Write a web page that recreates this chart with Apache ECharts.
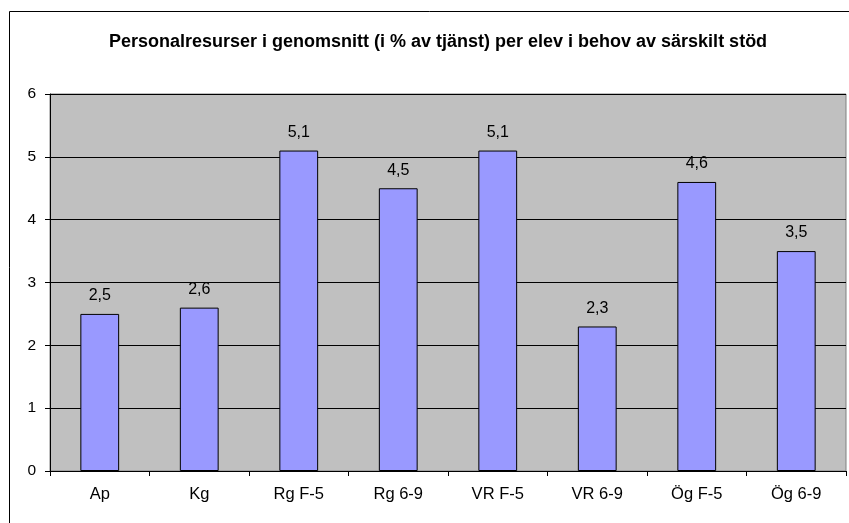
<!DOCTYPE html>
<html>
<head>
<meta charset="utf-8">
<script src="https://cdn.jsdelivr.net/npm/echarts@6/dist/echarts.min.js"></script>
<style>
html, body { margin: 0; padding: 0; background: #fff; }
#chart { width: 849px; height: 523px; }
</style>
</head>
<body>
<div id="chart"></div>
<script>
var categories = ['Ap', 'Kg', 'Rg F-5', 'Rg 6-9', 'VR F-5', 'VR 6-9', 'Ög F-5', 'Ög 6-9'];
var values = [2.5, 2.6, 5.1, 4.5, 5.1, 2.3, 4.6, 3.5];
var yTicks = [0, 6, 1];

var chart = echarts.init(document.getElementById('chart'));

chart.setOption({
    animation: false,
    title: {
        text: 'Personalresurser i genomsnitt (i % av tjänst) per elev i behov av särskilt stöd',
        left: 433,
        textAlign: 'center',
        top: 28,
        textStyle: { fontFamily: 'Liberation Sans, Arial', fontSize: 18, fontWeight: 'bold', color: '#000' }
    },
    graphic: [{
        type: 'rect',
        shape: { x: 9.5, y: 11.5, width: 900, height: 600 },
        style: { fill: null, stroke: '#000', lineWidth: 1 },
        silent: true
    }],
    grid: {
        left: 50, top: 94, right: 3, bottom: 52,
        show: true,
        backgroundColor: '#C0C0C0',
        borderColor: '#808080',
        borderWidth: 1
    },
    xAxis: {
        type: 'category',
        data: categories,
        axisLine: { lineStyle: { color: '#000', width: 1 } },
        axisTick: { show: true, alignWithLabel: false, length: 5, lineStyle: { color: '#000' } },
        axisLabel: { color: '#000', fontFamily: 'Liberation Sans, Arial', fontSize: 16.5, margin: 15 }
    },
    yAxis: {
        type: 'value',
        min: yTicks[0], max: yTicks[1], interval: yTicks[2],
        axisLine: { show: true, lineStyle: { color: '#000', width: 1 } },
        axisTick: { show: true, length: 5, lineStyle: { color: '#000' } },
        splitLine: { lineStyle: { color: '#000', width: 1 } },
        axisLabel: { color: '#000', fontFamily: 'Liberation Sans, Arial', fontSize: 15.5, margin: 14,
            formatter: function (v) { return String(v); } }
    },
    series: [{
        type: 'bar',
        data: values,
        barWidth: '39%',
        itemStyle: { color: '#9999FF', borderColor: '#000', borderWidth: 1 },
        label: {
            show: true,
            position: 'top',
            distance: 10,
            color: '#000',
            fontFamily: 'Liberation Sans, Arial',
            fontSize: 16,
            formatter: function (p) { return String(p.value).replace('.', ','); }
        }
    }]
});
</script>
</body>
</html>
